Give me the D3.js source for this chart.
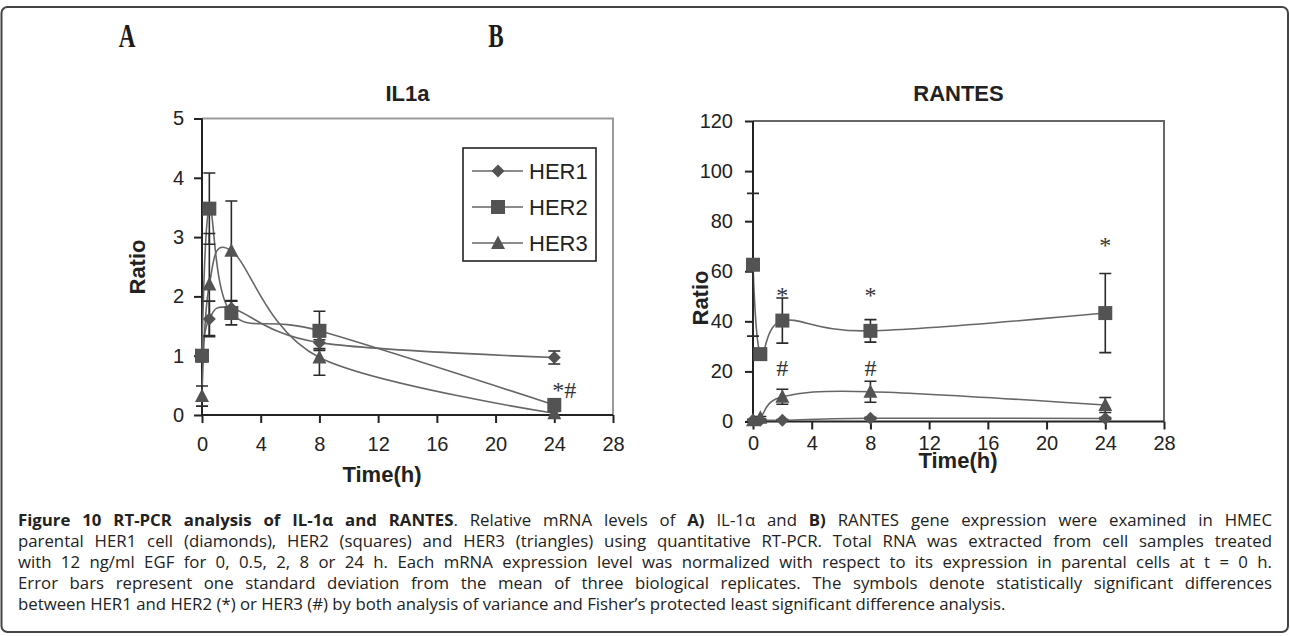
<!DOCTYPE html>
<html><head><meta charset="utf-8">
<script src="https://cdn.jsdelivr.net/npm/d3@7"></script>
<style>body{margin:0;background:#fff}svg{display:block}</style>
</head><body>
<svg id="c" width="1290" height="636"></svg>
<script>
// ---------- data ----------
const times = [0, 0.5, 2, 8, 24];
const seriesNames = ["HER1", "HER2", "HER3"];
const seriesShapes = ["diamond", "square", "triangle"];

const il1aHER1 = [1.0, 1.62, 1.8, 1.22, 0.97];
const il1aHER1Err = [0.08, 0.3, 0.12, 0.1, 0.11];
const il1aHER2 = [1.0, 3.48, 1.72, 1.42, 0.17];
const il1aHER2Err = [0.1, 0.6, 0.2, 0.33, 0.05];
const il1aHER3 = [0.32, 2.2, 2.77, 0.97, 0.03];
const il1aHER3Err = [0.17, 0.86, 0.84, 0.3, 0.03];

const rantesHER1 = [0.5, 0.5, 0.5, 1.3, 1.2];
const rantesHER1Err = [0.3, 0.3, 0.3, 0.4, 0.4];
const rantesHER2 = [62.6, 26.9, 40.3, 36.2, 43.3];
const rantesHER2Err = [28.5, 2.2, 9, 4.5, 15.8];
const rantesHER3 = [0.5, 1.5, 9.9, 11.9, 6.6];
const rantesHER3Err = [0.3, 0.5, 3, 4.2, 3];

const xTicks = [0, 4, 8, 12, 16, 20, 24, 28];
const il1aTicks = [0, 1, 2, 3, 4, 5];
const rantesTicks = [0, 20, 40, 60, 80, 100, 120];

const il1aMarks = [{t: 24, v: 0.29, text: "*#"}];
const rantesMarks = [
  {t: 2, v: 47.5, text: "*"}, {t: 8, v: 47.5, text: "*"}, {t: 24, v: 67.4, text: "*"},
  {t: 2, v: 18.2, text: "#"}, {t: 8, v: 18.2, text: "#"}
];

const panelLetters = ["A", "B"];
const titles = ["IL1a", "RANTES"];
const xTitle = "Time(h)";
const yTitle = "Ratio";

const captionLines = [
  [["Figure 10 RT-PCR analysis of IL-1\u03b1 and RANTES", true], [". Relative mRNA levels of ", false], ["A)", true], [" IL-1\u03b1 and ", false], ["B)", true], [" RANTES gene expression were examined in HMEC", false]],
  [["parental HER1 cell (diamonds), HER2 (squares) and HER3 (triangles) using quantitative RT-PCR. Total RNA was extracted from cell samples treated", false]],
  [["with 12 ng/ml EGF for 0, 0.5, 2, 8 or 24 h. Each mRNA expression level was normalized with respect to its expression in parental cells at t = 0 h.", false]],
  [["Error bars represent one standard deviation from the mean of three biological replicates. The symbols denote statistically significant differences", false]],
  [["between HER1 and HER2 (*) or HER3 (#) by both analysis of variance and Fisher\u2019s protected least significant difference analysis.", false]]
];

// ---------- drawing ----------
const svg = d3.select("#c");
const SANS = "'Liberation Sans', Arial, sans-serif";
const SERIF = "'Liberation Serif', 'Times New Roman', serif";

svg.append("rect").attr("x", 1.5).attr("y", 7).attr("width", 1286.5).attr("height", 625)
  .attr("rx", 6).attr("fill", "none").attr("stroke", "#444").attr("stroke-width", 2);

function markerPath(shape) {
  if (shape === "diamond") return "M0,-6.5L6.5,0L0,6.5L-6.5,0Z";
  if (shape === "square") return "M-7,-7H7V7H-7Z";
  return "M0,-7.5L7,6L-7,6Z";
}

function panel(cfg) {
  const g = svg.append("g");
  const x = d3.scaleLinear().domain([0, 28]).range([cfg.x0, cfg.x1]);
  const y = d3.scaleLinear().domain([0, cfg.yMax]).range([cfg.yBot, cfg.yTop]);

  g.append("path").attr("d", `M${cfg.x0},${cfg.yTop}H${cfg.x1}V${cfg.yBot}`)
    .attr("fill", "none").attr("stroke", cfg.frameColor).attr("stroke-width", 2);

  const ya = g.append("g").attr("transform", `translate(${cfg.x0},0)`)
    .call(d3.axisLeft(y).tickValues(cfg.yTicks).tickSize(8).tickPadding(cfg.yPad).tickFormat(d3.format("d")));
  const xa = g.append("g").attr("transform", `translate(0,${cfg.yBot})`)
    .call(d3.axisBottom(x).tickValues(xTicks).tickSize(8).tickPadding(cfg.xPad).tickFormat(d3.format("d")));
  [ya, xa].forEach(a => {
    a.select(".domain").attr("stroke", "#222").attr("stroke-width", 2);
    a.selectAll(".tick line").attr("stroke", "#222").attr("stroke-width", 2);
    a.selectAll(".tick text").attr("fill", "#222").style("font-family", SANS).style("font-size", "20px");
  });
  ya.select(".domain").attr("d", `M0,${cfg.yBot}V${cfg.yTop}`);
  xa.select(".domain").attr("d", `M${cfg.x0},0H${cfg.x1}`);

  const line = d3.line().x(d => x(d.t)).y(d => y(d.v)).curve(d3.curveCardinal.tension(0));
  cfg.series.forEach((s) => {
    const pts = times.map((t, j) => ({t, v: s.v[j]}));
    g.append("path").datum(pts).attr("d", line).attr("fill", "none")
      .attr("stroke", "#666").attr("stroke-width", 1.6);
  });
  cfg.series.forEach((s) => {
    const pts = times.map((t, j) => ({t, v: s.v[j], e: s.e[j]}));
    const eb = g.append("g").attr("stroke", "#2a2a2a").attr("stroke-width", 1.6).attr("fill", "none");
    pts.forEach(p => {
      const xx = x(p.t), y1 = y(p.v + p.e), y2 = y(Math.max(0, p.v - p.e));
      eb.append("path").attr("d", `M${xx},${y1}V${y2}M${xx - 6},${y1}H${xx + 6}M${xx - 6},${y2}H${xx + 6}`);
    });
  });
  cfg.series.forEach((s, i) => {
    const pts = times.map((t, j) => ({t, v: s.v[j]}));
    g.selectAll(null).data(pts).enter().append("path")
      .attr("d", markerPath(seriesShapes[i]))
      .attr("transform", d => `translate(${x(d.t)},${y(d.v)})`)
      .attr("fill", "#535353");
  });

  g.selectAll(null).data(cfg.marks).enter().append("text")
    .attr("x", d => x(d.t) + (d.text.length > 1 ? 10 : 0))
    .attr("y", d => y(d.v))
    .attr("text-anchor", "middle")
    .style("font-family", SERIF).style("font-size", "24px").attr("fill", "#333")
    .text(d => d.text);

  g.append("text").attr("x", (cfg.x0 + cfg.x1) / 2).attr("y", cfg.titleY)
    .attr("text-anchor", "middle").style("font-family", SANS).style("font-weight", "bold")
    .style("font-size", "22px").attr("fill", "#222").text(cfg.title);
  g.append("text").attr("x", cfg.xTitleX).attr("y", cfg.xTitleY)
    .attr("text-anchor", "middle").style("font-family", SANS).style("font-weight", "bold")
    .style("font-size", "22px").attr("fill", "#222").text(xTitle);
  g.append("text").attr("transform", `translate(${cfg.yTitleX},${cfg.yTitleY}) rotate(-90)`)
    .attr("text-anchor", "middle").style("font-family", SANS).style("font-weight", "bold")
    .style("font-size", "22px").attr("fill", "#222").text(yTitle);
  g.append("text").attr("transform", `translate(${cfg.letterX},47) scale(0.68,1)`)
    .attr("text-anchor", "middle").style("font-family", SERIF).style("font-weight", "bold")
    .style("font-size", "34px").attr("fill", "#1a1a1a").text(cfg.letter);
  return {g, x, y};
}

panel({
  x0: 202, x1: 613, yTop: 118.5, yBot: 415, yMax: 5, yTicks: il1aTicks, yPad: 10, xPad: 14,
  frameColor: "#9a9a9a", marks: il1aMarks, title: titles[0], titleY: 101,
  xTitleX: 382, xTitleY: 482, yTitleX: 145, yTitleY: 267, letterX: 127, letter: panelLetters[0],
  series: [
    {v: il1aHER1, e: il1aHER1Err}, {v: il1aHER2, e: il1aHER2Err}, {v: il1aHER3, e: il1aHER3Err}
  ]
});
panel({
  x0: 753, x1: 1164, yTop: 121, yBot: 421.5, yMax: 120, yTicks: rantesTicks, yPad: 12, xPad: 6,
  frameColor: "#666", marks: rantesMarks, title: titles[1], titleY: 101,
  xTitleX: 958, xTitleY: 468, yTitleX: 708, yTitleY: 298, letterX: 496, letter: panelLetters[1],
  series: [
    {v: rantesHER1, e: rantesHER1Err}, {v: rantesHER2, e: rantesHER2Err}, {v: rantesHER3, e: rantesHER3Err}
  ]
});

const lg = svg.append("g");
lg.append("rect").attr("x", 463).attr("y", 148).attr("width", 133).attr("height", 113)
  .attr("fill", "#fff").attr("stroke", "#222").attr("stroke-width", 1.6);
seriesNames.forEach((n, i) => {
  const yy = 171 + i * 36;
  lg.append("line").attr("x1", 472).attr("x2", 523).attr("y1", yy).attr("y2", yy)
    .attr("stroke", "#666").attr("stroke-width", 1.6);
  lg.append("path").attr("d", markerPath(seriesShapes[i])).attr("transform", `translate(498,${yy})`).attr("fill", "#535353");
  lg.append("text").attr("x", 529).attr("y", yy + 8).style("font-family", SANS).style("font-size", "22px")
    .attr("fill", "#222").text(n);
});

const capG = svg.append("g");
const capX = 18, capRight = 1272, capY0 = 526, capDy = 21;
captionLines.forEach((segs, i) => {
  const t = capG.append("text").attr("x", capX).attr("y", capY0 + i * capDy)
    .style("font-family", "'Open Sans', sans-serif").style("font-size", "16.8px").attr("fill", "#222")
    .attr("xml:space", "preserve");
  segs.forEach(([s, b]) => t.append("tspan").style("font-weight", b ? "bold" : "normal").text(s));
  if (i < captionLines.length - 1) {
    const w = t.node().getComputedTextLength();
    const spaces = segs.map(s => s[0]).join("").split(" ").length - 1;
    t.style("word-spacing", ((capRight - capX - w) / spaces) + "px");
  }
});
</script>
</body></html>
